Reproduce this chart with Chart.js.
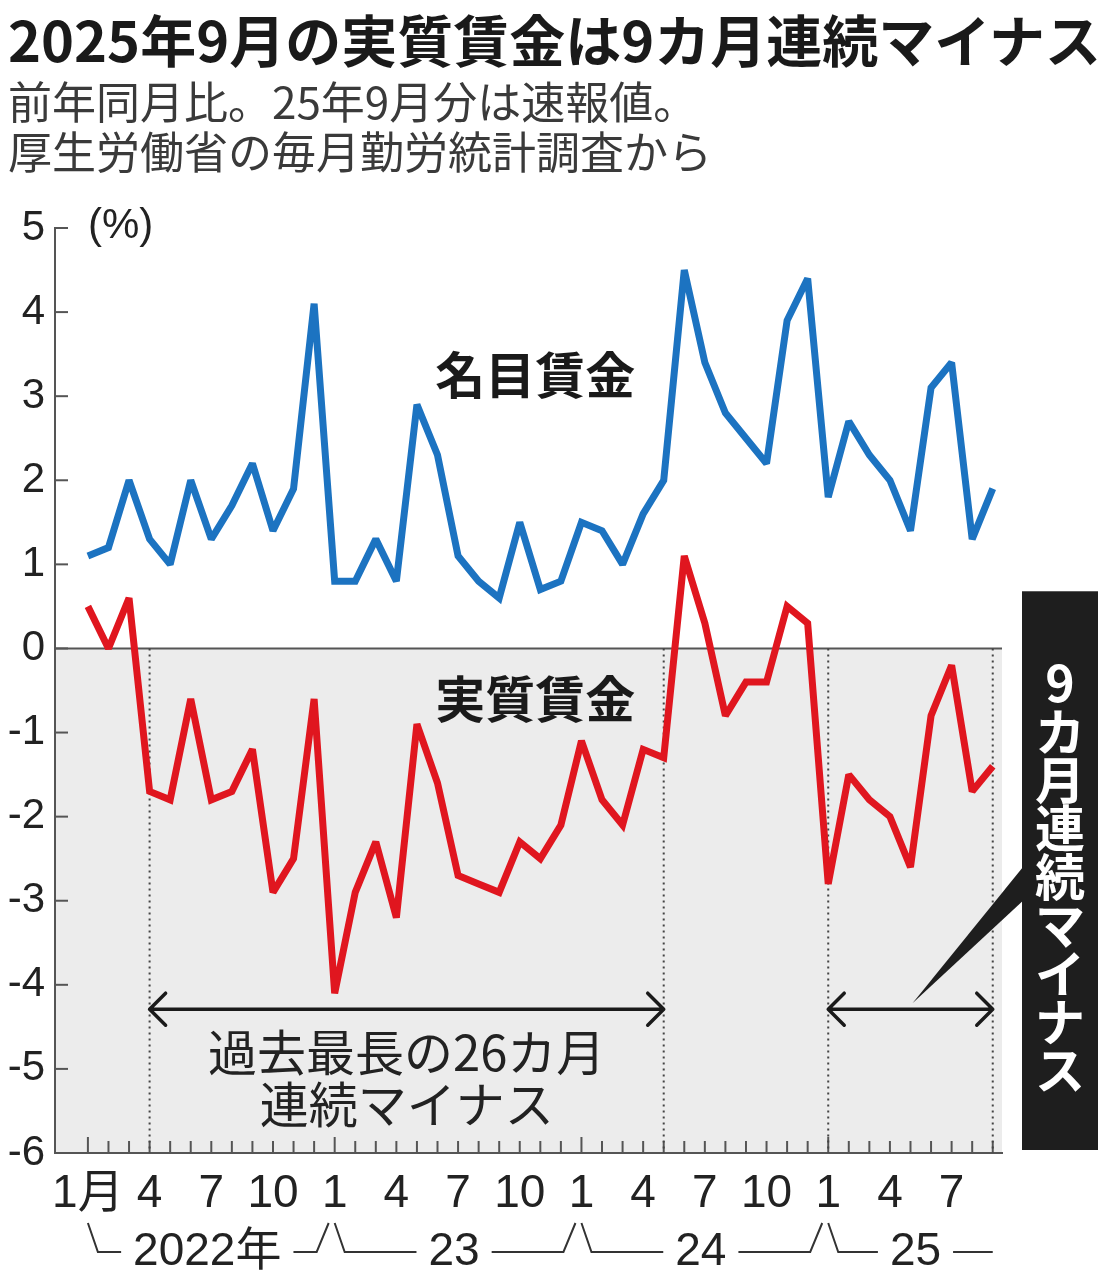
<!DOCTYPE html>
<html lang="ja">
<head>
<meta charset="utf-8">
<title>実質賃金は9カ月連続マイナス</title>
<script src="https://cdn.jsdelivr.net/npm/chart.js@4.4.1/dist/chart.umd.min.js"></script>
<style>
  html, body { margin: 0; padding: 0; background: #fff; }
  #wrap { position: relative; width: 1118px; height: 1282px; overflow: hidden; }
  #chart { position: absolute; left: 0; top: 0; }
  .head { position: absolute; left: 8px; white-space: nowrap; font-family: 'Noto Sans CJK JP', sans-serif; }
  #title { top: 8px; font-size: 56px; line-height: 60px; font-weight: 700; color: #1a1a1a; }
  .sub { font-size: 44px; line-height: 50px; color: #3a3a3a; }
  #sub1 { top: 75px; }
  #sub2 { top: 125px; }
</style>
</head>
<body>
<div id="wrap">
  <canvas id="chart" width="1118" height="1282"></canvas>
  <div id="title" class="head">2025年9月の実質賃金は9カ月連続マイナス</div>
  <div id="sub1" class="head sub">前年同月比。25年9月分は速報値。</div>
  <div id="sub2" class="head sub">厚生労働省の毎月勤労統計調査から</div>
</div>
<script>
// months, Jan 2022 .. Sep 2025
const months = [
  '2022-01','2022-02','2022-03','2022-04','2022-05','2022-06','2022-07','2022-08','2022-09','2022-10','2022-11','2022-12',
  '2023-01','2023-02','2023-03','2023-04','2023-05','2023-06','2023-07','2023-08','2023-09','2023-10','2023-11','2023-12',
  '2024-01','2024-02','2024-03','2024-04','2024-05','2024-06','2024-07','2024-08','2024-09','2024-10','2024-11','2024-12',
  '2025-01','2025-02','2025-03','2025-04','2025-05','2025-06','2025-07','2025-08','2025-09'
];

// 名目賃金 (nominal wages), % y/y
const nominal = [
  1.1, 1.2, 2.0, 1.3, 1.0, 2.0, 1.3, 1.7, 2.2, 1.4, 1.9, 4.1,
  0.8, 0.8, 1.3, 0.8, 2.9, 2.3, 1.1, 0.8, 0.6, 1.5, 0.7, 0.8,
  1.5, 1.4, 1.0, 1.6, 2.0, 4.5, 3.4, 2.8, 2.5, 2.2, 3.9, 4.4,
  1.8, 2.7, 2.3, 2.0, 1.4, 3.1, 3.4, 1.3, 1.9
];

// 実質賃金 (real wages), % y/y
const real = [
  0.5, 0.0, 0.6, -1.7, -1.8, -0.6, -1.8, -1.7, -1.2, -2.9, -2.5, -0.6,
  -4.1, -2.9, -2.3, -3.2, -0.9, -1.6, -2.7, -2.8, -2.9, -2.3, -2.5, -2.1,
  -1.1, -1.8, -2.1, -1.2, -1.3, 1.1, 0.3, -0.8, -0.4, -0.4, 0.5, 0.3,
  -2.8, -1.5, -1.8, -2.0, -2.6, -0.8, -0.2, -1.7, -1.4
];

// tick labels every third month, and the year row below
const monthTicks = ['1月','4','7','10','1','4','7','10','1','4','7','10','1','4','7'];
const years = ['2022年','23','24','25'];

// runs of negative real wages marked with arrows
const longRun = ['2022-04', '2024-05'];
const currentRun = ['2025-01', '2025-09'];

const BLUE = '#1c73c1';
const RED = '#e0161f';
const INK = '#222';
const AXIS = '#555';
const SHADE = '#ececec';
const NUM = "'Liberation Sans Narrow', 'Liberation Sans', 'Noto Sans CJK JP', sans-serif";
const JP = "'Noto Sans CJK JP', sans-serif";

function arrow(ctx, x1, x2, y) {
  const h = 16;
  ctx.beginPath();
  ctx.moveTo(x1, y); ctx.lineTo(x2, y);
  ctx.moveTo(x1 + h, y - h); ctx.lineTo(x1, y); ctx.lineTo(x1 + h, y + h);
  ctx.moveTo(x2 - h, y - h); ctx.lineTo(x2, y); ctx.lineTo(x2 - h, y + h);
  ctx.stroke();
}

const decor = {
  id: 'decor',
  beforeDraw(c) {
    const { ctx, chartArea: a, scales: { y } } = c;
    const y0 = y.getPixelForValue(0);
    ctx.save();
    ctx.fillStyle = SHADE;
    ctx.fillRect(a.left, y0, a.right - a.left, a.bottom - y0);
    ctx.restore();
  },
  beforeDatasetsDraw(c) {
    const { ctx, chartArea: a, scales: { x, y } } = c;
    const y0 = y.getPixelForValue(0);
    ctx.save();
    ctx.strokeStyle = AXIS;
    ctx.lineWidth = 2;
    // zero line
    ctx.beginPath();
    ctx.moveTo(a.left, y0); ctx.lineTo(a.right, y0);
    ctx.stroke();
    // y ticks pointing inward
    for (let v = -6; v <= 5; v++) {
      const py = y.getPixelForValue(v);
      ctx.beginPath(); ctx.moveTo(a.left, py); ctx.lineTo(a.left + 13, py); ctx.stroke();
    }
    // month ticks
    months.forEach((m, i) => {
      const px = x.getPixelForValue(i);
      const len = m.endsWith('-01') ? 16 : 12;
      ctx.beginPath(); ctx.moveTo(px, a.bottom); ctx.lineTo(px, a.bottom - len); ctx.stroke();
    });
    // dotted run boundaries
    ctx.strokeStyle = '#444';
    ctx.setLineDash([2, 4]);
    [...longRun, ...currentRun].forEach(m => {
      const px = x.getPixelForValue(months.indexOf(m));
      ctx.beginPath(); ctx.moveTo(px, y0); ctx.lineTo(px, a.bottom); ctx.stroke();
    });
    ctx.restore();
    // keep the sharp line corners from spiking too far
    ctx.miterLimit = 2.2;
  },
  afterDatasetsDraw(c) {
    const { ctx, chartArea: a, scales: { x, y } } = c;
    const px = m => x.getPixelForValue(months.indexOf(m));
    ctx.save();
    ctx.textAlign = 'center';
    ctx.textBaseline = 'middle';

    // (%)
    ctx.fillStyle = INK;
    ctx.textAlign = 'left';
    ctx.font = `42px ${NUM}`;
    ctx.fillText('(%)', a.left + 33, y.getPixelForValue(5) - 2);
    ctx.textAlign = 'center';

    // series labels
    ctx.fillStyle = '#1a1a1a';
    ctx.font = `700 50px ${JP}`;
    ctx.fillText('名目賃金', x.getPixelForValue(21.75), y.getPixelForValue(3.25));
    ctx.fillText('実質賃金', x.getPixelForValue(21.75), y.getPixelForValue(-0.6));

    // arrows
    const ay = y.getPixelForValue(-4.29);
    ctx.strokeStyle = '#1a1a1a';
    ctx.lineWidth = 3.5;
    ctx.lineCap = 'round';
    ctx.lineJoin = 'round';
    arrow(ctx, px(longRun[0]), px(longRun[1]), ay);
    arrow(ctx, px(currentRun[0]), px(currentRun[1]), ay);

    // long run caption
    const cx = (px(longRun[0]) + px(longRun[1])) / 2;
    ctx.fillStyle = INK;
    ctx.font = `49px ${JP}`;
    ctx.fillText('過去最長の26カ月', cx, y.getPixelForValue(-4.8));
    ctx.fillText('連続マイナス', cx, y.getPixelForValue(-5.42));

    // black label box
    const bx = a.right + 20, bw = 76;
    const by = y.getPixelForValue(0.68), bb = a.bottom - 3;
    ctx.fillStyle = '#1e1e1e';
    ctx.fillRect(bx, by, bw, bb - by);
    // pointer wedge
    const tipX = (px(currentRun[0]) + px(currentRun[1])) / 2 + 2;
    ctx.beginPath();
    ctx.moveTo(tipX, ay - 6);
    ctx.lineTo(bx + 1, y.getPixelForValue(-2.6));
    ctx.lineTo(bx + 1, y.getPixelForValue(-3.0));
    ctx.closePath();
    ctx.fill();
    // vertical text
    ctx.fillStyle = '#fff';
    ctx.font = `700 50px ${JP}`;
    Array.from('9カ月連続マイナス').forEach((ch, i) => {
      ctx.fillText(ch, bx + bw / 2, by + 92 + i * 48.4);
    });
    ctx.restore();
  },
  afterDraw(c) {
    const { ctx, chartArea: a, scales: { x } } = c;
    const lineY = a.bottom + 99, peakY = a.bottom + 70;
    ctx.save();
    ctx.strokeStyle = '#333';
    ctx.lineWidth = 2;
    ctx.fillStyle = INK;
    ctx.font = `46px ${NUM}`;
    ctx.textAlign = 'center';
    ctx.textBaseline = 'middle';
    years.forEach((label, j) => {
      const s = months.indexOf(`${2022 + j}-01`);
      const n = months.indexOf(`${2023 + j}-01`);
      const x0 = x.getPixelForValue(s);
      const x1 = n >= 0 ? x.getPixelForValue(n) - 18 : x.getPixelForValue(months.length - 1);
      const mid = (x0 + 10 + x1) / 2;
      const w = ctx.measureText(label).width / 2 + 12;
      ctx.fillText(label, mid, lineY);
      ctx.beginPath();
      ctx.moveTo(x0, peakY); ctx.lineTo(x0 + 10, lineY); ctx.lineTo(mid - w, lineY);
      ctx.moveTo(mid + w, lineY); ctx.lineTo(x1, lineY);
      if (n >= 0) ctx.lineTo(x1 + 12, peakY);
      ctx.stroke();
    });
    ctx.restore();
  }
};

new Chart(document.getElementById('chart'), {
  type: 'line',
  data: {
    datasets: [
      { label: '名目賃金', data: nominal.map((v, i) => ({ x: i, y: v })), borderColor: BLUE },
      { label: '実質賃金', data: real.map((v, i) => ({ x: i, y: v })), borderColor: RED }
    ]
  },
  options: {
    responsive: false,
    animation: false,
    devicePixelRatio: 1,
    layout: { padding: { left: 0, right: 116, top: 228, bottom: 0 } },
    elements: {
      line: { borderWidth: 7, tension: 0, borderJoinStyle: 'miter', borderCapStyle: 'butt' },
      point: { radius: 0, hoverRadius: 0 }
    },
    plugins: { legend: { display: false }, tooltip: { enabled: false } },
    scales: {
      x: {
        type: 'linear',
        min: -1.6,
        max: 44.45,
        afterBuildTicks: s => { s.ticks = months.map((m, i) => ({ value: i })); },
        afterFit: s => { s.height = 129; },
        grid: { display: false, drawTicks: false },
        border: { display: true, color: AXIS, width: 2 },
        ticks: {
          autoSkip: false,
          maxRotation: 0,
          padding: 14,
          color: INK,
          font: { family: NUM, size: 46 },
          callback: v => (v % 3 === 0 ? monthTicks[v / 3] : '')
        }
      },
      y: {
        min: -6,
        max: 5,
        afterFit: s => { s.width = 55; },
        grid: { display: false, drawTicks: false },
        border: { display: true, color: AXIS, width: 2 },
        ticks: {
          stepSize: 1,
          padding: 10,
          color: INK,
          font: { family: NUM, size: 42 },
          callback: v => String(v)
        }
      }
    }
  },
  plugins: [decor]
});
</script>
</body>
</html>
